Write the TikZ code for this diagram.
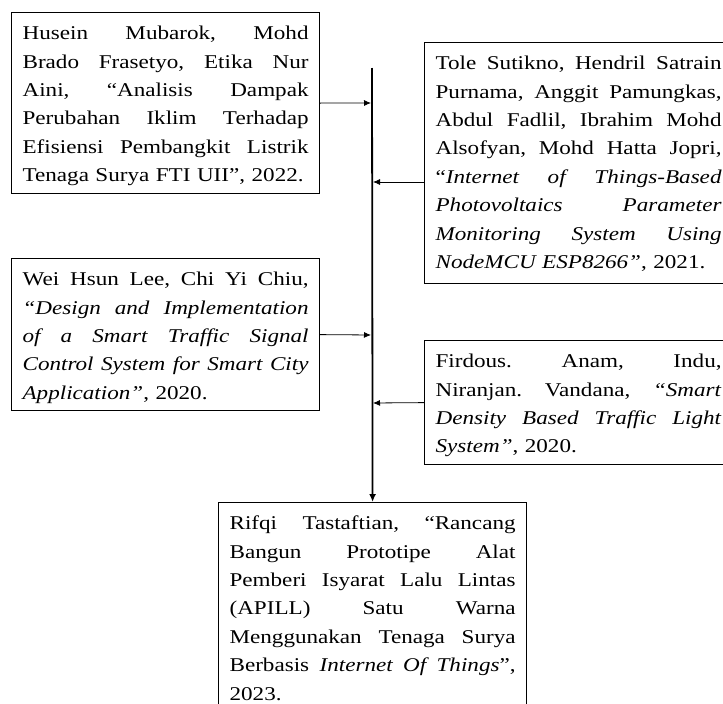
\documentclass[tikz,border=0pt]{standalone}
\usepackage{fontspec}
\setmainfont[FakeStretch=1.185]{Liberation Serif}
\usetikzlibrary{arrows.meta}
\newcommand\jl[1]{\hbox to 286pt{\spaceskip=0.25em plus 1fil\relax\xspaceskip=\spaceskip #1}}
\newcommand\lastl[1]{\hbox{#1}}
\hbadness=10000
\frenchspacing
\begin{document}
\begin{tikzpicture}[x=1pt,y=-1pt,
  box/.style={draw, line width=1.2pt, text width=286pt, inner xsep=11pt, inner ysep=0pt,
    text height=27pt, anchor=north west, font=\fontsize{19.5}{28.4}\selectfont},
  conn/.style={-{Latex[length=7pt,width=6pt]}, line width=0.8pt, shorten >=1pt},
  spine/.style={-{Latex[length=8pt,width=7pt]}, line width=1.8pt}]
\useasboundingbox (0,0) rectangle (723,704);
\node[box, text depth=154pt] (b1) at (11,12) {%
\jl{Husein Mubarok, Mohd}
\jl{Brado Frasetyo, Etika Nur}
\jl{Aini, “Analisis Dampak}
\jl{Perubahan Iklim Terhadap}
\jl{Efisiensi Pembangkit Listrik}
\lastl{Tenaga Surya FTI UII”, 2022.}};
\node[box, text depth=214pt] (b2) at (424,42) {%
\jl{Tole Sutikno, Hendril Satrain}
\jl{Purnama, Anggit Pamungkas,}
\jl{Abdul Fadlil, Ibrahim Mohd}
\jl{Alsofyan, Mohd Hatta Jopri,}
\jl{“\textit{Internet of Things-Based}}
\jl{\textit{Photovoltaics Parameter}}
\jl{\textit{Monitoring System Using}}
\lastl{\textit{NodeMCU ESP8266”}, 2021.}};
\node[box, text depth=125pt] (b3) at (11,258) {%
\jl{Wei Hsun Lee, Chi Yi Chiu,}
\jl{\textit{“Design and Implementation}}
\jl{\textit{of a Smart Traffic Signal}}
\jl{\textit{Control System for Smart City}}
\lastl{\textit{Application”}, 2020.}};
\node[box, text depth=97pt] (b4) at (424,340) {%
\jl{Firdous. Anam, Indu,}
\jl{Niranjan. Vandana, \textit{“Smart}}
\jl{\textit{Density Based Traffic Light}}
\lastl{\textit{System”}, 2020.}};
\node[box, text depth=200pt] (b6) at (218,502) {%
\jl{Rifqi Tastaftian, “Rancang}
\jl{Bangun Prototipe Alat}
\jl{Pemberi Isyarat Lalu Lintas}
\jl{(APILL) Satu Warna}
\jl{Menggunakan Tenaga Surya}
\jl{Berbasis \textit{Internet Of Things}”,}
\lastl{2023.}};
\coordinate (top) at (372,68);
\coordinate (j1) at (372,103);
\coordinate (j2) at (372,182);
\coordinate (j3) at (372,335);
\coordinate (j4) at (372,403);
\draw[spine] (top) -- (b6.north);
\draw[conn] (b1.east) -- (j1);
\draw[conn] (b2.west |- j2) -- (j2);
\draw[conn] (b3.east) -- (j3);
\draw[conn] (b4.west) -- (j4);
\end{tikzpicture}
\end{document}
